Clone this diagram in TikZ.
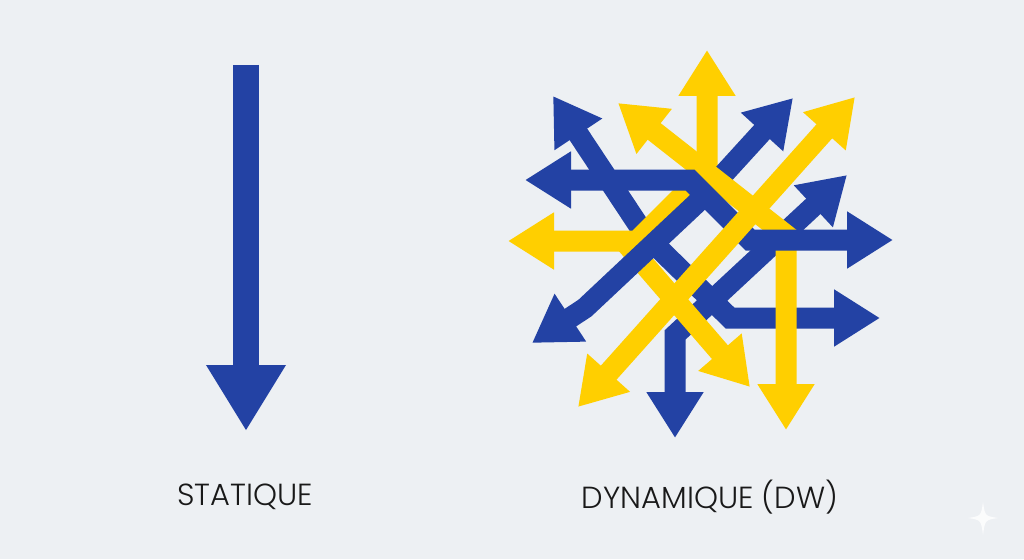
\documentclass[tikz,border=0pt]{standalone}
\usepackage{fontspec}
\setmainfont{Poppins}[UprightFont=* Light]
\usetikzlibrary{arrows.meta}
\definecolor{bleu}{HTML}{2342A4}
\definecolor{jaune}{HTML}{FFCF00}
\definecolor{fond}{HTML}{EDF0F3}
\tikzset{pointe/.tip={Triangle[width=54pt,length=46pt]}}
\begin{document}
\begin{tikzpicture}[x=1pt,y=-1pt,
  fleche/.style={line width=21pt,line join=miter,-pointe},
  fleches/.style={line width=21pt,line join=miter,pointe-pointe},
  etiquette/.style={text=black!90,font=\fontsize{30.5}{33}\selectfont}]
\fill[fond](0,0)rectangle(1024,559);
\useasboundingbox(0,0)rectangle(1024,559);
% statique
\draw[bleu,line width=26pt,-{Triangle[width=75pt,length=66pt]}](246,65)--(246,431);
\node[etiquette](statique)at(245,497){STATIQUE};
% dynamique
\draw[bleu,fleches](553,96)--(645,235)--(730,318)--(880,318);
\draw[jaune,fleches](508,241)--(637,241)--(707,171)--(707,50);
\draw[bleu,fleches](675,438)--(675,335)--(847,175);
\draw[jaune,fleche](624,241)--(750,387);
\draw[bleu,fleches](532,343)--(585,308)--(700,200)--(793,98);
\draw[jaune,fleches](618,103)--(786,235)--(786,430);
\draw[bleu,fleches](525,180)--(690,180)--(750,240)--(893,240);
\draw[jaune,fleches](578,407)--(855,97);
\node[etiquette](dynamique)at(710,497){DYNAMIQUE (DW)};
%
\fill[white,opacity=0.8](983,502)..controls(985,516)..(998,518)..controls(985,520)..(983,535)
  ..controls(981,520)..(968,518)..controls(981,516)..(983,502);
\end{tikzpicture}
\end{document}
